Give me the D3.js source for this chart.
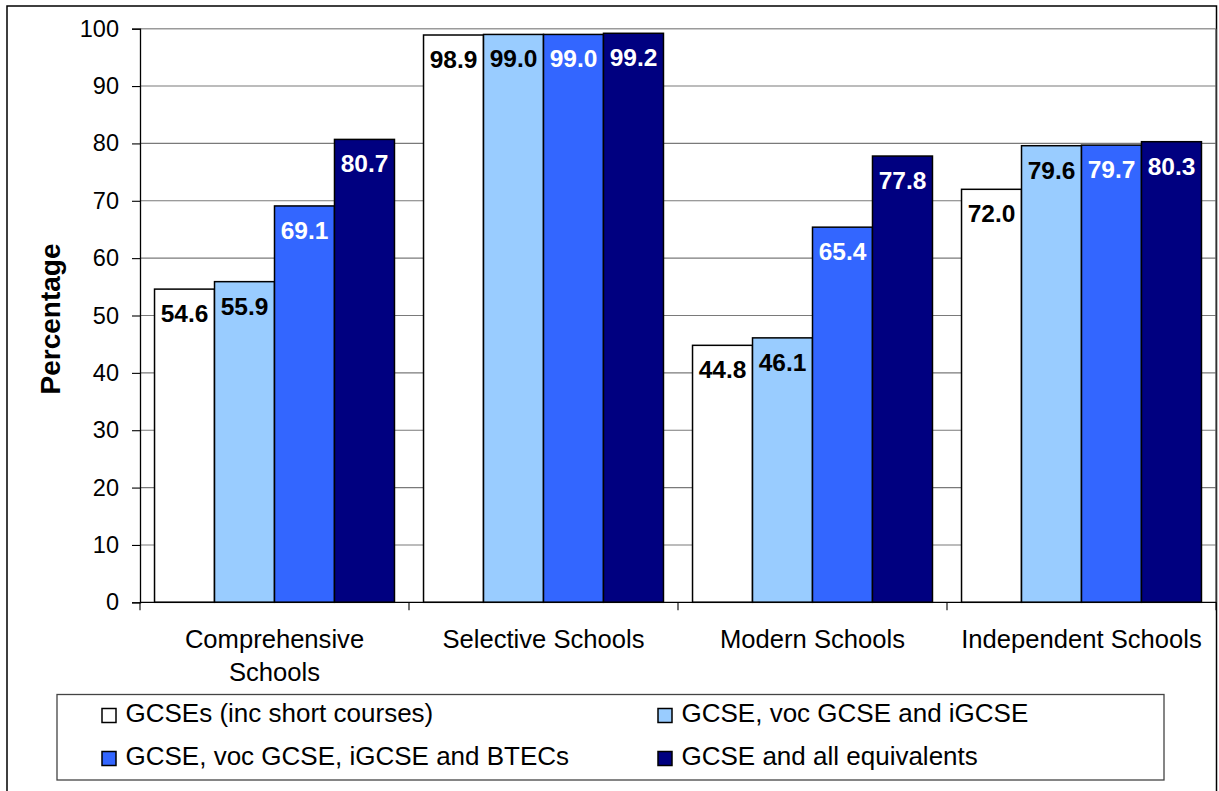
<!DOCTYPE html>
<html>
<head>
<meta charset="utf-8">
<script src="https://cdn.jsdelivr.net/npm/d3@7"></script>
<style>
  html, body { margin: 0; padding: 0; background: #fff; }
  svg { display: block; font-family: "Liberation Sans", Arial, sans-serif; }
</style>
</head>
<body>
<svg id="chart" width="1219" height="791"></svg>
<script>
// School types shown along the x axis (split into display lines)
const categories = ["Comprehensive Schools", "Selective Schools", "Modern Schools", "Independent Schools"];
const categoryLines = [["Comprehensive", "Schools"], ["Selective Schools"], ["Modern Schools"], ["Independent Schools"]];

// Qualification measures (one bar per school type)
const seriesNames = [
  "GCSEs (inc short courses)",
  "GCSE, voc GCSE and iGCSE",
  "GCSE, voc GCSE, iGCSE and BTECs",
  "GCSE and all equivalents"
];
const seriesColors = ["#FFFFFF", "#99CCFF", "#3366FF", "#000080"];
const labelColors = ["#000000", "#000000", "#FFFFFF", "#FFFFFF"];

// Percentage values, per series, in category order
const gcses        = [54.6, 98.9, 44.8, 72.0];
const vocIgcse     = [55.9, 99.0, 46.1, 79.6];
const vocIgcseBtec = [69.1, 99.0, 65.4, 79.7];
const allEquiv     = [80.7, 99.2, 77.8, 80.3];
const seriesValues = [gcses, vocIgcse, vocIgcseBtec, allEquiv];

const yTicks = [0, 10, 20, 30, 40, 50, 60, 70, 80, 90, 100];

const svg = d3.select("#chart");

// Outer chart frame
svg.append("rect")
  .attr("x", 7).attr("y", 6).attr("width", 1209.5).attr("height", 800)
  .attr("fill", "none").attr("stroke", "#000").attr("stroke-width", 1.5);

const plot = { left: 140, right: 1216, top: 28.7, bottom: 602.3 };

const x0 = d3.scaleBand()
  .domain(categories)
  .range([plot.left, plot.right])
  .paddingInner(0.108)
  .paddingOuter(0.054);

const x1 = d3.scaleBand()
  .domain(d3.range(seriesNames.length))
  .range([0, x0.bandwidth()]);

const y = d3.scaleLinear().domain([0, 100]).range([plot.bottom, plot.top]);

// Horizontal gridlines
svg.append("g")
  .selectAll("line")
  .data(yTicks.filter(t => t > 0))
  .join("line")
  .attr("x1", plot.left).attr("x2", plot.right)
  .attr("y1", d => y(d)).attr("y2", d => y(d))
  .attr("stroke", d => d === 100 ? "#9a9a9a" : "#7a7a7a")
  .attr("stroke-width", d => d === 100 ? 1.6 : 1.1);

// Right edge of the plot area
svg.append("line")
  .attr("x1", plot.right).attr("x2", plot.right)
  .attr("y1", plot.top).attr("y2", plot.bottom)
  .attr("stroke", "#555").attr("stroke-width", 1.2);

// Y axis
const yAxis = d3.axisLeft(y).tickValues(yTicks).tickSize(8).tickPadding(13);
const gy = svg.append("g").attr("transform", `translate(${plot.left},0)`).call(yAxis);
gy.select(".domain").attr("stroke", "#000").attr("stroke-width", 1.3);
gy.selectAll(".tick line").attr("stroke", "#000").attr("stroke-width", 1.1);
gy.selectAll(".tick text")
  .attr("font-size", 23.5)
  .attr("font-family", "'Liberation Sans', Arial, sans-serif")
  .attr("fill", "#000");

// Bars
const groups = svg.append("g")
  .selectAll("g")
  .data(categories)
  .join("g")
  .attr("transform", d => `translate(${x0(d)},0)`);

groups.selectAll("rect")
  .data((c, ci) => seriesValues.map((vals, si) => ({ si, v: vals[ci] })))
  .join("rect")
  .attr("x", d => x1(d.si))
  .attr("y", d => y(d.v))
  .attr("width", x1.bandwidth())
  .attr("height", d => y(0) - y(d.v))
  .attr("fill", d => seriesColors[d.si])
  .attr("stroke", "#000")
  .attr("stroke-width", 1.5);

// Value labels inside the top of each bar
groups.selectAll("text")
  .data((c, ci) => seriesValues.map((vals, si) => ({ si, v: vals[ci] })))
  .join("text")
  .attr("x", d => x1(d.si) + x1.bandwidth() / 2)
  .attr("y", d => y(d.v) + 33)
  .attr("text-anchor", "middle")
  .attr("font-size", 24.5)
  .attr("font-weight", "bold")
  .attr("fill", d => labelColors[d.si])
  .text(d => d.v.toFixed(1));

// X axis line and category separator ticks
svg.append("line")
  .attr("x1", plot.left).attr("x2", plot.right)
  .attr("y1", plot.bottom).attr("y2", plot.bottom)
  .attr("stroke", "#000").attr("stroke-width", 1.3);

const step = x0.step();
svg.append("g")
  .selectAll("line")
  .data(d3.range(categories.length + 1))
  .join("line")
  .attr("x1", i => plot.left + i * step).attr("x2", i => plot.left + i * step)
  .attr("y1", plot.bottom).attr("y2", plot.bottom + 8)
  .attr("stroke", "#000").attr("stroke-width", 1.1);

// Category labels
const catLabels = svg.append("g")
  .selectAll("text")
  .data(categories)
  .join("text")
  .attr("text-anchor", "middle")
  .attr("font-size", 25.6)
  .attr("fill", "#000")
  .attr("x", d => x0(d) + x0.bandwidth() / 2)
  .attr("y", 648);

catLabels.each(function (d, i) {
  const t = d3.select(this);
  categoryLines[i].forEach((line, li) => {
    t.append("tspan")
      .attr("x", x0(d) + x0.bandwidth() / 2)
      .attr("dy", li === 0 ? 0 : 33)
      .text(line);
  });
});

// Y axis title
svg.append("text")
  .attr("transform", "translate(60,319) rotate(-90)")
  .attr("text-anchor", "middle")
  .attr("font-size", 28)
  .attr("font-weight", "bold")
  .attr("fill", "#000")
  .text("Percentage");

// Legend
const legend = svg.append("g");
legend.append("rect")
  .attr("x", 57).attr("y", 694.5).attr("width", 1107).attr("height", 85.5)
  .attr("fill", "#fff").attr("stroke", "#444").attr("stroke-width", 1.3);

const legendPos = [
  { sx: 102, ty: 722 },
  { sx: 658, ty: 722 },
  { sx: 102, ty: 765 },
  { sx: 658, ty: 765 }
];

const items = legend.selectAll("g.item")
  .data(seriesNames)
  .join("g")
  .attr("class", "item");

items.append("rect")
  .attr("x", (d, i) => legendPos[i].sx)
  .attr("y", (d, i) => legendPos[i].ty - 13.5)
  .attr("width", 14).attr("height", 14)
  .attr("fill", (d, i) => seriesColors[i])
  .attr("stroke", "#000").attr("stroke-width", 1.5);

items.append("text")
  .attr("x", (d, i) => legendPos[i].sx + 23.5)
  .attr("y", (d, i) => legendPos[i].ty)
  .attr("font-size", 26)
  .attr("fill", "#000")
  .text(d => d);
</script>
</body>
</html>
